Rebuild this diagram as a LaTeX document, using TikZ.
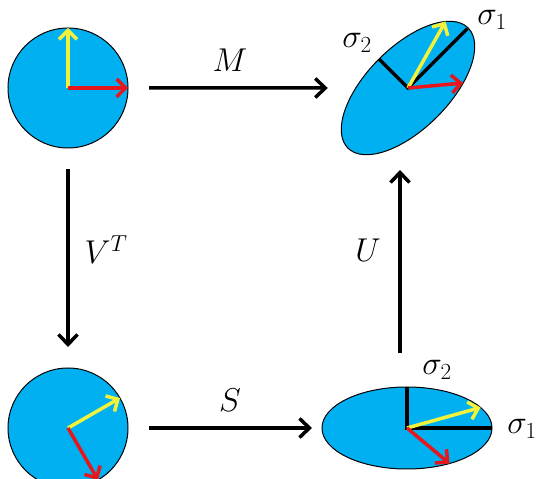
\RequirePackage{fix-cm}
\documentclass[tikz,border=0pt]{standalone}
\usepackage{amsmath}
\usepackage{tikz}
\usetikzlibrary{arrows.meta,shapes.geometric}
\definecolor{diskc}{HTML}{00B0F0}
\definecolor{yvecc}{HTML}{F2F23C}
\definecolor{rvecc}{HTML}{E8161C}
\tikzset{
  disk/.style={circle,draw=black,line width=1pt,fill=diskc,minimum size=120pt,inner sep=0pt,outer sep=0pt},
  oval/.style={ellipse,draw=black,line width=1pt,fill=diskc,minimum width=170pt,minimum height=82pt,inner sep=0pt,outer sep=0pt},
  map/.style={-{Straight Barb[length=10pt,width=19pt]},line width=3.5pt,black},
  yv/.style={-{Straight Barb[length=9pt,width=18pt]},line width=3.5pt,yvecc},
  rv/.style={-{Straight Barb[length=9pt,width=18pt]},line width=3.5pt,rvecc},
  sax/.style={line width=3.5pt,black},
  lab/.style={font=\fontsize{33}{40}\selectfont,inner sep=0pt}
}
\begin{document}
\begin{tikzpicture}[x=1pt,y=1pt]
\useasboundingbox (0,0) rectangle (541,479);
% shapes
\node[disk] (cA) at (68,391) {};
\node[disk] (cB) at (68,51) {};
\node[oval] (eC) at (407,51) {};
\node[oval,rotate=45] (eD) at (408,391) {};
% vectors
\begin{scope}[shift={(cA.center)}]
\draw[yv] (0,0) -- (0,60);
\draw[rv] (0,0) -- (60,0);
\end{scope}
\begin{scope}[shift={(cB.center)},rotate=-60]
\draw[yv] (0,0) -- (0,60);
\draw[rv] (0,0) -- (60,0);
\end{scope}
\begin{scope}[shift={(eC.center)}]
\draw[sax] (0,41) -- (0,0) -- (85,0);
\begin{scope}[xscale=85/60,yscale=41/60,rotate=-60]
\draw[yv] (0,0) -- (0,60);
\draw[rv] (0,0) -- (60,0);
\end{scope}
\end{scope}
\begin{scope}[shift={(eD.center)},rotate=45]
\draw[sax] (0,41) -- (0,0) -- (84,0);
\begin{scope}[xscale=85/60,yscale=41/60,rotate=-60]
\draw[yv] (0,0) -- (0,60);
\draw[rv] (0,0) -- (60,0);
\end{scope}
\end{scope}
% maps
\draw[map,shorten <=21pt,shorten >=28pt] (cA) -- (eD);
\draw[map,shorten <=21pt,shorten >=21pt] (cA) -- (cB);
\draw[map,shorten <=21pt,shorten >=10pt] (cB) -- (eC);
\draw[map,shorten <=34pt,shorten >=82pt] ([xshift=-7pt]eC.north) -- ([xshift=-8pt]eD.center);
% labels
\node[lab] (lM) at (230,419) {$M$};
\node[lab] (lV) at (106,229) {$V^T$};
\node[lab] (lS) at (230,79) {$S$};
\node[lab] (lU) at (368,229) {$U$};
\node[lab] (sD1) at (492,459) {$\sigma_1$};
\node[lab] (sD2) at (357,436) {$\sigma_2$};
\node[lab] (sC2) at (437,109) {$\sigma_2$};
\node[lab] (sC1) at (522,50) {$\sigma_1$};
\end{tikzpicture}
\end{document}
